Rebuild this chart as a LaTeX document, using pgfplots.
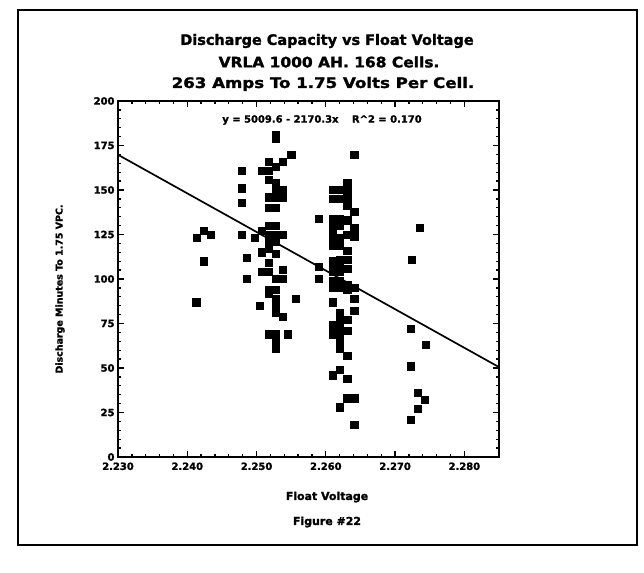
\documentclass[border=0pt]{standalone}
\usepackage{fontspec}
\setmainfont{DejaVu Sans}[BoldFeatures={FakeBold=1.5}]
\usepackage{pgfplots}
\pgfplotsset{compat=1.18}
\begin{document}
\begin{tikzpicture}[x=1bp,y=1bp]
\useasboundingbox (0,0) rectangle (644,573);
\fill[white] (0,0) rectangle (644,573);
\draw[line width=1.4bp] (18,28) rectangle (637,563);
\node[font=\bfseries\fontsize{14.5}{16}\selectfont] at (327,532) {Discharge Capacity vs Float Voltage};
\node[font=\bfseries\fontsize{14.5}{16}\selectfont, xscale=1.07] at (329,511) {VRLA 1000 AH. 168 Cells.};
\node[font=\bfseries\fontsize{14.5}{16}\selectfont, xscale=1.15] at (323,489) {263 Amps To 1.75 Volts Per Cell.};
\node[font=\bfseries\fontsize{10}{11}\selectfont] at (322,453) {y = 5009.6 - 2170.3x \quad R\textasciicircum 2 = 0.170};
\node[font=\bfseries\fontsize{9.5}{11}\selectfont, rotate=90] at (60,284) {Discharge Minutes To 1.75 VPC.};
\node[font=\bfseries\fontsize{11}{13}\selectfont] at (327,76) {Float Voltage};
\node[font=\bfseries\fontsize{11}{13}\selectfont] at (327,51) {Figure \#22};
\begin{axis}[
  at={(118bp,116bp)}, anchor=south west,
  scale only axis, width=381bp, height=356bp,
  xmin=2.230, xmax=2.285, ymin=0, ymax=200,
  xtick={2.23,2.24,2.25,2.26,2.27,2.28},
  xticklabels={2.230,2.240,2.250,2.260,2.270,2.280},
  ytick={0,25,50,75,100,125,150,175,200},
  minor x tick num=4, minor y tick num=4,
  tick align=inside,
  major tick length=6bp, minor tick length=3bp,
  axis line style={line width=2.2bp},
  every tick/.style={line width=1.3bp, black},
  /pgf/number format/assume math mode=true,
  tick label style={font=\bfseries\fontsize{10}{11}\selectfont},
  xticklabel style={yshift=-2bp},
  clip=false,
]
\addplot[black, line width=1.7bp, no marks] coordinates {(2.230,169.8) (2.285,50.5)};
\addplot[only marks, mark=square*, mark size=3.6bp, black] table {
x y
2.2413 87
2.2414 123
2.2424 127
2.2434 125
2.2424 110
2.2478 161
2.2478 151
2.2478 143
2.2478 125
2.2486 112
2.2486 100
2.2497 123
2.2505 85
2.2507 161
2.2507 127
2.2507 115
2.2507 104
2.2517 166
2.2517 161
2.2517 156
2.2517 146
2.2517 140
2.2517 130
2.2517 125
2.2517 121
2.2517 117
2.2517 109
2.2517 104
2.2517 94
2.2517 92
2.2517 69
2.2528 181
2.2528 179
2.2528 163
2.2528 154
2.2528 150
2.2528 146
2.2528 140
2.2528 130
2.2528 125
2.2528 121
2.2528 114
2.2528 100
2.2528 94
2.2528 89
2.2528 85
2.2528 81
2.2528 69
2.2528 64
2.2528 61
2.2538 166
2.2538 150
2.2538 146
2.2538 125
2.2538 105
2.2538 100
2.2538 79
2.2550 170
2.2556 89
2.2545 69
2.2590 134
2.2590 107
2.2590 100
2.2610 150
2.2610 145
2.2610 134
2.2610 130
2.2610 126
2.2610 123
2.2610 119
2.2610 110
2.2610 107
2.2610 104
2.2610 99
2.2610 95
2.2610 87
2.2610 74
2.2610 69
2.2610 46
2.2620 150
2.2620 145
2.2620 134
2.2620 130
2.2620 123
2.2620 119
2.2620 111
2.2620 107
2.2620 104
2.2620 99
2.2620 95
2.2620 81
2.2620 79
2.2620 74
2.2620 69
2.2620 65
2.2620 61
2.2620 49
2.2620 28
2.2631 154
2.2631 150
2.2631 146
2.2631 141
2.2631 133
2.2631 125
2.2631 116
2.2631 111
2.2631 106
2.2631 97
2.2631 94
2.2631 77
2.2631 71
2.2631 57
2.2631 44
2.2631 33
2.2641 170
2.2641 138
2.2641 129
2.2641 124
2.2641 95
2.2641 89
2.2641 82
2.2641 33
2.2641 18
2.2723 72
2.2744 63
2.2723 51
2.2733 36
2.2743 32
2.2733 27
2.2722 21
2.2735 129
2.2724 111
};
\end{axis}
\end{tikzpicture}
\end{document}
